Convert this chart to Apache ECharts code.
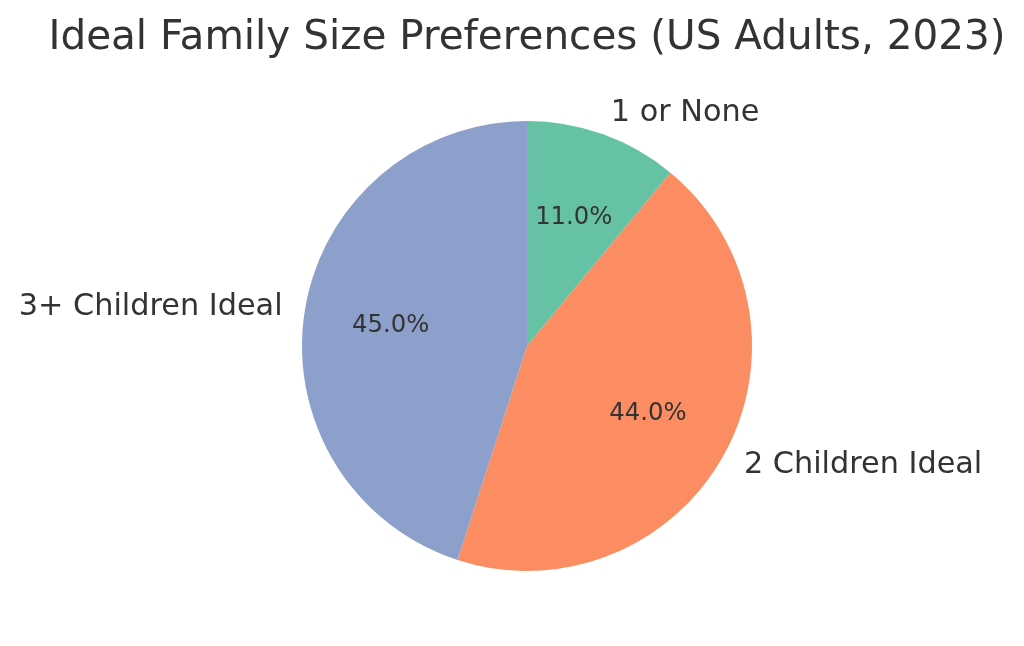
<!DOCTYPE html>
<html>
<head>
<meta charset="utf-8">
<script src="https://cdn.jsdelivr.net/npm/echarts@6/dist/echarts.min.js"></script>
<style>html,body{margin:0;padding:0;background:#fff}#c{width:1024px;height:646px}</style>
</head>
<body>
<div id="c"></div>
<script>
const categories = ['1 or None', '2 Children Ideal', '3+ Children Ideal'];
const shares = [11, 44, 45];
const colors = ['#66c2a5', '#fc8d62', '#8da0cb'];

const R = 225;
const CENTER = [527, 346];
const FONT = 'DejaVu Sans';

const chart = echarts.init(document.getElementById('c'), null, {renderer: 'canvas'});
const base = categories.map((n, i) => ({name: n, value: shares[i], itemStyle: {color: colors[i]}}));
const ghost = categories.map((n, i) => ({name: n, value: shares[i], itemStyle: {color: 'rgba(0,0,0,0)'}}));

chart.setOption({
  backgroundColor: '#ffffff',
  animation: false,
  title: {
    text: 'Ideal Family Size Preferences (US Adults, 2023)',
    left: CENTER[0] - 5,
    textAlign: 'center',
    top: 13,
    textStyle: {fontFamily: FONT, fontSize: 40.5, fontWeight: 'normal', color: '#333333'}
  },
  series: [
    {
      type: 'pie',
      center: CENTER,
      radius: [0, R],
      startAngle: 90,
      clockwise: true,
      avoidLabelOverlap: false,
      silent: true,
      itemStyle: {borderWidth: 0},
      label: {
        show: true, position: 'outside',
        fontFamily: FONT, fontSize: 30.3, color: '#333333',
        distanceToLabelLine: 0,
        formatter: '{b}'
      },
      labelLine: {show: false, length: R * 0.1, length2: 0},
      data: base
    },
    {
      type: 'pie',
      center: CENTER,
      radius: [0, R * 1.2],
      startAngle: 90,
      clockwise: true,
      avoidLabelOverlap: false,
      silent: true,
      z: 5,
      label: {
        show: true, position: 'inside',
        fontFamily: FONT, fontSize: 24.3, color: '#333333',
        offset: [0, 1.5],
        formatter: p => p.value.toFixed(1) + '%'
      },
      labelLine: {show: false},
      data: ghost
    }
  ]
});
</script>
</body>
</html>
